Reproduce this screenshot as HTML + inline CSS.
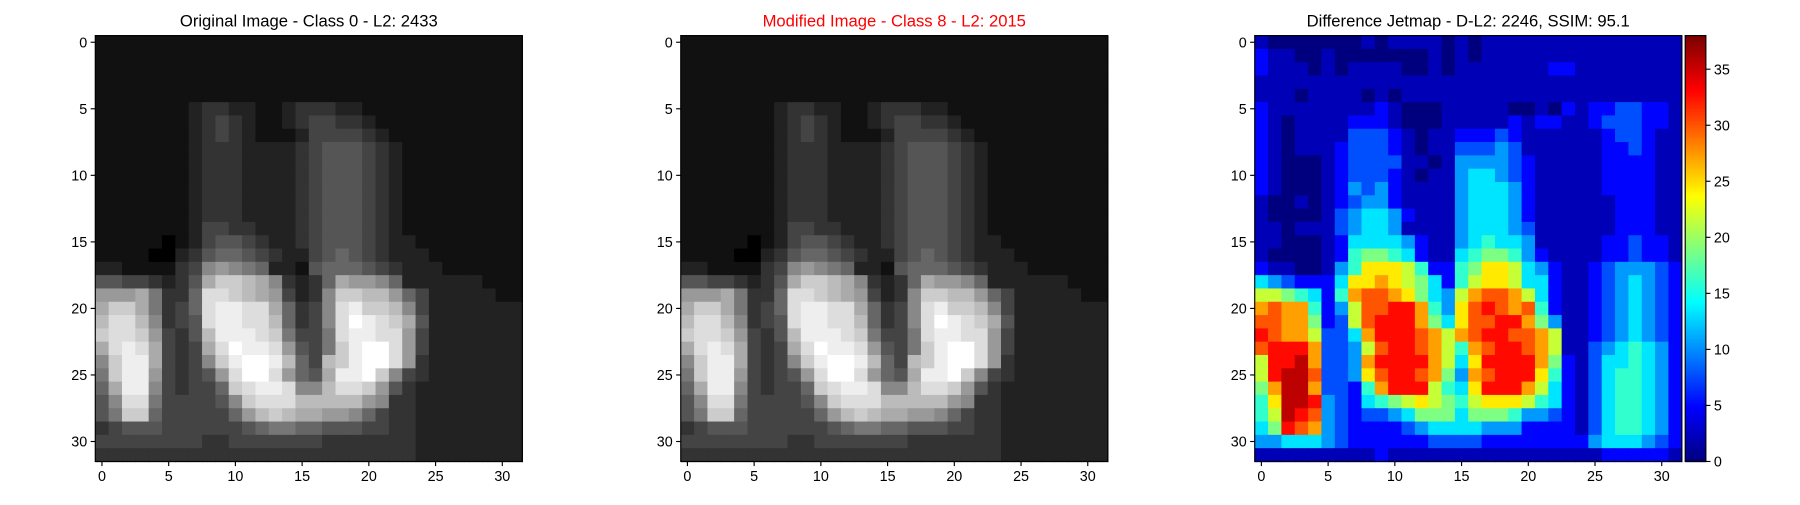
<!DOCTYPE html>
<html><head><meta charset="utf-8"><style>
body{margin:0;background:#fff;font-family:"Liberation Sans",sans-serif;overflow:hidden}
svg text{font-family:"Liberation Sans",sans-serif;font-size:12.5px}
</style></head><body>
<svg id="fig" width="1800" height="500" viewBox="0 0 1568 435.56" preserveAspectRatio="none" xmlns="http://www.w3.org/2000/svg"></svg>
<script>
const grayRows=[
"11111111111111111111111111111111","11111111111111111111111111111111","11111111111111111111111111111111","11111111111111111111111111111111","11111111111111111111111111111111",
"11111112"+"33221123"+"33221111"+"11111111",
"11111112"+"34321123"+"44332111"+"11111111",
"11111112"+"34321112"+"44443211"+"11111111",
"11111112"+"33322223"+"45554321"+"11111111",
"11111112"+"33322223"+"45554321"+"11111111",
"11111112"+"33322223"+"45554321"+"11111111",
"11111112"+"33322223"+"45554321"+"11111111",
"11111112"+"33322223"+"45554321"+"11111111",
"11111112"+"33322223"+"45554321"+"11111111",
"11111112"+"44332223"+"45554321"+"11111111",
"11111012"+"45543223"+"45554322"+"11111111",
"11110023"+"56654322"+"45654322"+"21111111",
"22111134"+"89876221"+"56665432"+"22111111",
"55443235"+"accba832"+"36a99862"+"22222111",
"999a7336"+"ddcba942"+"38ccbb96"+"42222211",
"acca7346"+"deedda63"+"48deccb8"+"42222222",
"bddb8345"+"deeddb63"+"48dfedca"+"52222222",
"cddc9435"+"beeedc74"+"47deedd9"+"42222222",
"adeda434"+"adfeed95"+"47ceffd9"+"42222222",
"8ceea434"+"8ceffeb6"+"4bceffd9"+"32222222",
"7cee9434"+"59dffd96"+"5aeefc84"+"32222222",
"6aee8434"+"46cdeed8"+"8bddc953"+"22222222",
"58dd7444"+"458cdddb"+"bbbb9833"+"22222222",
"57cc6444"+"4469bcba"+"a9986433"+"22222222",
"34555444"+"44456776"+"65554433"+"22222222",
"44444444"+"33444444"+"43333333"+"22222222",
"33333333"+"33333333"+"33333333"+"22222222"];
const grayRowsMod=grayRows.slice();
const jetRows=[
"211111112122221212222222"+"22222222","322112111111121212222222"+"22222222","322212122221121222222233"+"22222222","222222222222222222222222"+"22222222","222122221212222222222222"+"22222222",
"322222222321112222211213"+"23344332","321222233321112222232332"+"23444332","321222244432122333432222"+"22344322","321222344432122444542222"+"22334322","321112344442212555543222"+"22333322","321112344432122566543222"+"22333322","321112354532222566653222"+"22333322","211212345532222566653222"+"22233322","211112456653222566653222"+"22233322","221222456652222566654222"+"22233322","221112366665322567665222"+"22334332","211112378876322678875322"+"22334332",
"32211257aaa973378aa96532"+"23455543","6543336aaba986379aa96632"+"23456543","9987637bccba8659bccb9632"+"23456543","bcbb7359ccddb75acdcbc732"+"23456543","ccbb8349cdddb86accddb852"+"23456543","dcbb9446bdddcb9bcddccb92"+"23456543","cdddb4459cddcb97bcddcb92"+"24567653","9ddeb445bddddb96addddb83"+"24667653","9deec445acddcb85bcddda73"+"24677653","8beeb4437bddd976adddb963"+"24677653","7aeed5436789a9879aaa9763"+"24677653","79edc5434456888688875543"+"24677653","68dcb5433334566665553333"+"24677653","556665433333344443333333"+"35666543","222222222322222222222222"+"22333332"];
const xTicks=[0,5,10,15,20,25,30];
const cbTicks=[0,5,10,15,20,25,30,35];
const titles=["Original Image - Class 0 - L2: 2433","Modified Image - Class 8 - L2: 2015","Difference Jetmap - D-L2: 2246, SSIM: 95.1"];
const axX=[83,593,1093];const axY=31,axW=372,axH=371,N=32,vmax=38;
const NS="http://www.w3.org/2000/svg";const svg=document.getElementById('fig');
function mk(t,a,p){const e=document.createElementNS(NS,t);for(const k in a)e.setAttribute(k,a[k]);(p||svg).appendChild(e);return e;}
function hv(s,i){const c=parseInt(s[i]||'2',16);return isNaN(c)?2:c;}
function jetVal(c){return Math.max(0,c*2.8-3.5);}
function jet(x){const cl=v=>Math.max(0,Math.min(1,v));const r=cl(1.5-Math.abs(4*x-3)),g=cl(1.5-Math.abs(4*x-2)),b=cl(1.5-Math.abs(4*x-1));return `rgb(${r*255|0},${g*255|0},${b*255|0})`;}
const cw=axW/N,ch=axH/N;
function xs(a,c){return axX[a]+c*cw;} function ys(r){return axY+r*ch;}
[grayRows,grayRowsMod,jetRows].forEach((rows,a)=>{
  const g=mk('g',{});
  
  
  for(let r=0;r<N;r++)for(let c=0;c<N;c++){
    const v=hv(rows[r],c);let col;
    if(a<2){const l=Math.round(v/15*255);col=`rgb(${l},${l},${l})`;}else col=jet(jetVal(v)/vmax);
    const e=mk('rect',{x:xs(a,c),y:ys(r),width:cw+0.6,height:ch+0.6,fill:col},g);
    
    
  }
  const f=mk('rect',{x:axX[a],y:axY,width:axW,height:axH,fill:'none',stroke:'#000','stroke-width':1});
  
  
  const t=mk('text',{x:axX[a]+axW/2,y:23,'text-anchor':'middle',style:'font-size:14.5px;fill:'+(a==1?'#ff0000':'#000')});t.textContent=titles[a];
  
  
  xTicks.forEach(v=>{
    const x=xs(a,v+0.5),y=ys(v+0.5);
    mk('line',{x1:x,x2:x,y1:axY+axH,y2:axY+axH+4,stroke:'#000'});
    const tx=mk('text',{x:x,y:axY+axH+17,'text-anchor':'middle'});tx.textContent=v;
    
    
    mk('line',{x1:axX[a]-4,x2:axX[a],y1:y,y2:y,stroke:'#000'});
    const ty=mk('text',{x:axX[a]-7,y:y+4.5,'text-anchor':'end'});ty.textContent=v;
    
    
  });
});
const cbX=1468,cbW=18;
const cb=mk('g',{});


for(let i=0;i<186;i++){const v=i/185;mk('rect',{x:cbX,y:axY+axH-(i+1)*axH/186,width:cbW,height:axH/186+0.6,fill:jet(v)},cb);}
mk('rect',{x:cbX,y:axY,width:cbW,height:axH,fill:'none',stroke:'#000'});
cbTicks.forEach(v=>{const y=axY+axH-v/vmax*axH;mk('line',{x1:cbX+cbW,x2:cbX+cbW+4,y1:y,y2:y,stroke:'#000'});
  const t=mk('text',{x:cbX+cbW+7,y:y+4.5});t.textContent=v;
  
  });
</script>
</body></html>
